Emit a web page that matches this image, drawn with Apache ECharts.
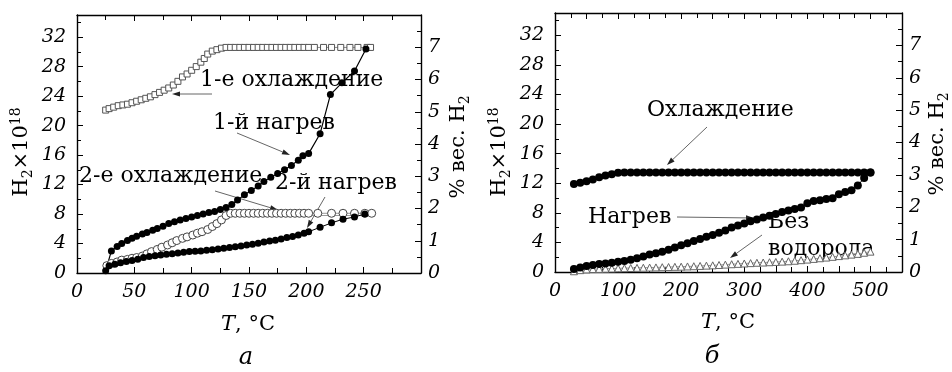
<!DOCTYPE html>
<html>
<head>
<meta charset="utf-8">
<script src="https://cdn.jsdelivr.net/npm/echarts@6/dist/echarts.min.js"></script>
<style>
html,body{margin:0;padding:0;background:#fff;}
#chart{width:952px;height:372px;}
</style>
</head>
<body>
<div id="chart"></div>
<script>
// panel a: 1-е охлаждение (open squares)
var cool1T=[25,28,32,36,40,44,48,52,56,60,64,68,72,76,80,84,88,92,96,100,104,108,111,114,118,122,126,130,
	134,138,142,146,150,154,158,162,166,170,174,178,182,186,190,194,198,202,207,215,222,230,238,245,253,256];
var cool1V=[22.1,22.3,22.5,22.7,22.8,22.9,23.1,23.3,23.5,23.7,23.9,24.2,24.5,24.8,25.1,25.5,26.0,26.6,27.0,27.5,28.0,28.6,29.1,29.7,30.1,30.3,30.5,30.6,
	30.6,30.6,30.6,30.6,30.6,30.6,30.6,30.6,30.6,30.6,30.6,30.6,30.6,30.6,30.6,30.6,30.6,30.6,30.6,30.6,30.6,30.6,30.6,30.6,30.6,30.6];
// 1-й нагрев
var heat1T=[25,30,35,39,44,48,52,57,61,66,70,75,80,85,90,95,100,105,110,115,120,125,130,135,140,146,152,158,163,169,175,181,187,193,197,202,212,221,231,242,252];
var heat1V=[0.3,3.0,3.6,4.0,4.4,4.7,5.0,5.3,5.5,5.8,6.05,6.35,6.7,6.95,7.2,7.4,7.6,7.8,8.0,8.2,8.35,8.6,8.9,9.3,9.9,10.6,11.2,11.8,12.4,13.0,13.5,14.0,14.6,15.3,15.9,16.2,18.9,24.2,25.8,27.4,30.4];
// 2-е охлаждение (open circles)
var cool2T=[26,30,35,39,44,48,52,57,61,65,70,74,79,83,87,92,96,101,105,109,114,118,122,126,130,134,
	138,142,146,150,154,158,162,166,170,174,178,182,186,190,194,198,202,210,222,232,242,251,257];
var cool2V=[1.0,1.3,1.5,1.75,1.85,2.0,2.1,2.3,2.6,2.9,3.2,3.5,3.8,4.1,4.4,4.7,4.9,5.15,5.4,5.6,5.9,6.3,6.7,7.2,7.8,8.1,
	8.1,8.1,8.1,8.1,8.1,8.1,8.1,8.1,8.1,8.1,8.1,8.1,8.1,8.1,8.1,8.1,8.1,8.1,8.1,8.1,8.1,8.1,8.1];
var cool2FitT=[130,257];
var cool2FitV=[7.8,7.8];
// 2-й нагрев
var heat2T=[28,33,38,43,48,53,58,63,68,73,78,83,88,93,98,103,108,113,118,123,128,133,138,143,148,153,158,163,168,173,178,183,188,193,198,202,212,222,232,242,251];
var heat2V=[1.0,1.2,1.4,1.55,1.7,1.85,2.1,2.25,2.35,2.45,2.55,2.6,2.7,2.8,2.9,2.95,3.0,3.1,3.15,3.25,3.35,3.45,3.55,3.65,3.8,3.9,4.05,4.2,4.35,4.45,4.6,4.8,4.95,5.15,5.4,5.6,6.2,6.8,7.3,7.6,8.0];

// panel б
var tempB=[30,40,50,60,70,80,90,100,110,120,130,140,150,160,170,180,190,200,210,220,230,240,250,260,
	270,280,290,300,310,320,330,340,350,360,370,380,390,400,410,420,430,440,450,460,470,480,490,500];
var coolBV=[11.9,12.05,12.25,12.5,12.8,13.05,13.2,13.4,13.45,13.45,13.45,13.45,13.45,13.45,13.45,13.45,13.45,13.45,13.45,13.45,13.45,13.45,13.45,13.45,
	13.45,13.45,13.45,13.45,13.45,13.45,13.45,13.45,13.45,13.45,13.45,13.45,13.45,13.45,13.45,13.45,13.45,13.45,13.45,13.45,13.45,13.45,13.45,13.45];
var heatBV=[0.4,0.6,0.8,0.95,1.07,1.16,1.25,1.38,1.5,1.65,1.85,2.1,2.35,2.55,2.75,3.0,3.3,3.6,3.9,4.2,4.45,4.75,5.0,5.3,
	5.6,6.0,6.3,6.55,6.85,7.1,7.35,7.6,7.85,8.1,8.3,8.5,8.7,9.3,9.6,9.7,9.85,9.95,10.5,10.8,11.05,11.7,12.7,13.45];
var noHV=[0.1,0.25,0.35,0.4,0.42,0.45,0.47,0.5,0.52,0.54,0.56,0.58,0.6,0.62,0.65,0.67,0.7,0.72,0.75,0.78,0.82,0.86,0.9,0.95,
	1.0,1.05,1.1,1.15,1.2,1.25,1.28,1.32,1.36,1.4,1.45,1.52,1.6,1.68,1.77,1.86,1.95,2.05,2.15,2.25,2.35,2.45,2.6,2.75];

function pairs(xs,ys){
	var out=[];
	for(var i=0;i<xs.length;i++){out.push([xs[i],ys[i]]);}
	return out;
}

var serif='"DejaVu Serif", serif';

function xAx(grid,max,pos,showLabel,fmt){
	return {
		type:'value',gridIndex:grid,position:pos,min:0,max:max,interval:50,
		axisLine:{show:true,onZero:false,lineStyle:{color:'#000',width:1.4}},
		axisTick:{show:true,inside:true,length:6,lineStyle:{color:'#000'}},
		minorTick:{show:true,splitNumber:2,length:5,lineStyle:{color:'#000'}},
		splitLine:{show:false},
		axisLabel:{show:showLabel,showMaxLabel:false,margin:10,formatter:fmt,fontFamily:serif,fontStyle:'italic',fontSize:19,color:'#000'}
	};
}
function yAx(grid,max,interval,pos,margin){
	return {
		type:'value',gridIndex:grid,position:pos,min:0,max:max,interval:interval,
		axisLine:{show:true,onZero:false,lineStyle:{color:'#000',width:1.4}},
		axisTick:{show:true,inside:true,length:6,lineStyle:{color:'#000'}},
		minorTick:{show:true,splitNumber:2,length:4,lineStyle:{color:'#000'}},
		splitLine:{show:false},
		axisLabel:{showMaxLabel:false,margin:margin,fontFamily:serif,fontStyle:'italic',fontSize:19,color:'#000'}
	};
}

function arrow(x1,y1,x2,y2){
	var a=Math.atan2(y2-y1,x2-x1),L=8,W=2.6;
	var bx=x2-L*Math.cos(a),by=y2-L*Math.sin(a);
	return [
		{type:'line',shape:{x1:x1,y1:y1,x2:bx,y2:by},style:{stroke:'#666',lineWidth:1},silent:true},
		{type:'polygon',shape:{points:[[x2,y2],[bx-W*Math.sin(a),by+W*Math.cos(a)],[bx+W*Math.sin(a),by-W*Math.cos(a)]]},style:{fill:'#222'},silent:true}
	];
}
function label(txt,x,y,size,align){
	return {type:'text',x:x,y:y,silent:true,style:{text:txt,fontFamily:serif,fontSize:size||20,fill:'#000',align:align||'left',verticalAlign:'middle'}};
}
var richName={
	n:{fontFamily:serif,fontSize:21,color:'#000',lineHeight:26},
	s:{fontFamily:serif,fontSize:14,color:'#000',verticalAlign:'bottom',lineHeight:26},
	p:{fontFamily:serif,fontSize:14,color:'#000',verticalAlign:'top',lineHeight:26}
};
function vname(txt,x,y){
	return {type:'text',x:x,y:y,rotation:Math.PI/2,silent:true,
		style:{text:txt,rich:richName,align:'center',verticalAlign:'middle'}};
}
var tRich={i:{fontFamily:serif,fontStyle:'italic',fontSize:21,color:'#000'},n:{fontFamily:serif,fontSize:21,color:'#000'}};

var graphics=[];
graphics.push(label('1-е охлаждение',200,80,22));
graphics=graphics.concat(arrow(212,94,172,94));
graphics.push(label('1-й нагрев',213,123,22));
graphics=graphics.concat(arrow(237,133,290,155));
graphics.push(label('2-е охлаждение',79,176,22));
graphics=graphics.concat(arrow(215,191,278,210));
graphics.push(label('2-й нагрев',275,183,22));
graphics=graphics.concat(arrow(325,197,307,228));
graphics.push(label('Охлаждение',647,110,22));
graphics=graphics.concat(arrow(707,127,667,165));
graphics.push(label('Нагрев',588,217,22));
graphics=graphics.concat(arrow(677,217,754,218));
graphics.push(label('Без',768,222,22));
graphics.push(label('водорода',768,249,22));
graphics=graphics.concat(arrow(762,235,730,258));
graphics.push(vname('{n|H}{s|2}{n|×10}{p|18}',22,152));
graphics.push(vname('{n|H}{s|2}{n|×10}{p|18}',500,152));
graphics.push(vname('{n|% вес. H}{s|2}',459,147));
graphics.push(vname('{n|% вес. H}{s|2}',938,144));
graphics.push({type:'text',x:248,y:325,silent:true,style:{text:'{i|T}{n|, °C}',rich:tRich,align:'center',verticalAlign:'middle'}});
graphics.push({type:'text',x:728,y:323,silent:true,style:{text:'{i|T}{n|, °C}',rich:tRich,align:'center',verticalAlign:'middle'}});
graphics.push({type:'text',x:246,y:358,silent:true,style:{text:'а',fontFamily:serif,fontStyle:'italic',fontSize:24,fill:'#000',align:'center',verticalAlign:'middle'}});
graphics.push({type:'text',x:712,y:357,silent:true,style:{text:'б',fontFamily:serif,fontStyle:'italic',fontSize:24,fill:'#000',align:'center',verticalAlign:'middle'}});

var chart=echarts.init(document.getElementById('chart'));
var option={
	animation:false,
	backgroundColor:'#fff',
	grid:[
		{left:77,right:531,top:15,bottom:99},
		{left:555,right:50,top:13,bottom:100}
	],
	xAxis:[
		xAx(0,300,'bottom',true),
		xAx(0,300,'top',false),
		xAx(1,550,'bottom',true,function(v){return v%100==0?v:'';}),
		xAx(1,550,'top',false)
	],
	yAxis:[
		yAx(0,35,4,'left',11),
		yAx(0,8,1,'right',7),
		yAx(1,35,4,'left',11),
		yAx(1,8,1,'right',7)
	],
	series:[
		{type:'line',name:'2-е охл. линия',xAxisIndex:0,yAxisIndex:0,data:pairs(cool2FitT,cool2FitV),showSymbol:false,symbol:'none',lineStyle:{color:'#999',width:1}},
		{type:'line',name:'1-е охлаждение',xAxisIndex:0,yAxisIndex:0,data:pairs(cool1T,cool1V),symbol:'rect',symbolSize:6,
			itemStyle:{color:'#fff',borderColor:'#555',borderWidth:1},lineStyle:{color:'#888',width:1}},
		{type:'line',name:'2-е охлаждение',xAxisIndex:0,yAxisIndex:0,data:pairs(cool2T,cool2V),symbol:'circle',symbolSize:8,
			itemStyle:{color:'#fff',borderColor:'#444',borderWidth:1},lineStyle:{color:'#999',width:1}},
		{type:'line',name:'2-й нагрев',xAxisIndex:0,yAxisIndex:0,data:pairs(heat2T,heat2V),symbol:'circle',symbolSize:7,
			itemStyle:{color:'#000'},lineStyle:{color:'#000',width:1}},
		{type:'line',name:'1-й нагрев',xAxisIndex:0,yAxisIndex:0,data:pairs(heat1T,heat1V),symbol:'circle',symbolSize:7,
			itemStyle:{color:'#000'},lineStyle:{color:'#000',width:1.2}},
		{type:'line',name:'Без водорода',xAxisIndex:2,yAxisIndex:2,data:pairs(tempB,noHV),symbol:'triangle',symbolSize:7,
			itemStyle:{color:'#fff',borderColor:'#666',borderWidth:1},lineStyle:{color:'#999',width:1}},
		{type:'line',name:'Охлаждение',xAxisIndex:2,yAxisIndex:2,data:pairs(tempB,coolBV),symbol:'circle',symbolSize:8,
			itemStyle:{color:'#000'},lineStyle:{color:'#000',width:1}},
		{type:'line',name:'Нагрев',xAxisIndex:2,yAxisIndex:2,data:pairs(tempB,heatBV),symbol:'circle',symbolSize:8,
			itemStyle:{color:'#000'},lineStyle:{color:'#000',width:1}}
	],
	graphic:graphics
};
chart.setOption(option);
</script>
</body>
</html>
